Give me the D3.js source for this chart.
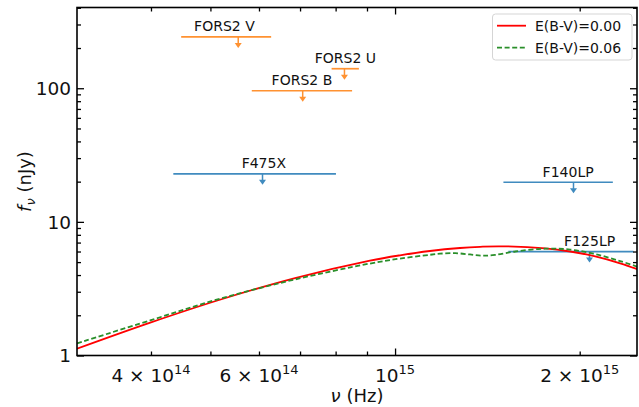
<!DOCTYPE html>
<html>
<head>
<meta charset="utf-8">
<script src="https://cdn.jsdelivr.net/npm/d3@7"></script>
<style>
body { margin: 0; background: #fff; }
text { font-family: "DejaVu Sans", sans-serif; fill: #111; }
</style>
</head>
<body>
<div id="chart"></div>
<script>
// model SED, E(B-V)=0.00
var sedFreq0 = [3.03e14, 4.0e14, 5.18e14, 6.87e14, 9.1e14, 1.019e15, 1.14e15, 1.276e15, 1.376e15, 1.484e15, 1.757e15, 1.93e15, 2.12e15, 2.328e15, 2.49e15];
var sedFlux0 = [1.124, 1.769, 2.613, 3.794, 5.126, 5.623, 6.055, 6.376, 6.508, 6.565, 6.342, 6.003, 5.518, 4.90, 4.406];
// model SED, E(B-V)=0.06
var sedFreq6 = [3.03e14, 4.0e14, 5.18e14, 6.87e14, 9.1e14, 1.019e15, 1.14e15, 1.184e15, 1.253e15, 1.325e15, 1.387e15, 1.456e15, 1.57e15, 1.757e15, 1.93e15, 2.12e15, 2.328e15, 2.49e15];
var sedFlux6 = [1.233, 1.840, 2.659, 3.711, 4.877, 5.314, 5.673, 5.780, 5.831, 5.702, 5.585, 5.662, 6.003, 6.300, 6.203, 5.741, 5.090, 4.598];

// upper limits
var bandNames = ["FORS2 V", "FORS2 U", "FORS2 B", "F475X", "F140LP", "F125LP"];
var bandFreq  = [5.55e14, 8.27e14, 7.07e14, 6.08e14, 1.954e15, 2.075e15];
var bandLo    = [4.48e14, 7.88e14, 5.84e14, 4.35e14, 1.502e15, 1.53e15];
var bandHi    = [6.28e14, 8.73e14, 8.51e14, 8.01e14, 2.265e15, 2.447e15];
var bandLimit = [242, 140, 95.8, 22.9, 19.8, 5.99];
var bandLabelFreq = [5.27e14, 8.3e14, 7.05e14, 6.11e14, 1.915e15, 2.076e15];
var bandInst  = ["FORS2", "FORS2", "FORS2", "HST", "HST", "HST"];

var xMajor = [1e15];
var xMinor = [4e14, 5e14, 6e14, 7e14, 8e14, 9e14, 2e15];
var xLabelled = [4e14, 6e14, 1e15, 2e15];
var yMajor = [1, 10, 100];
var yMinor = [2, 3, 4, 5, 6, 7, 8, 9, 20, 30, 40, 50, 60, 70, 80, 90, 200, 300, 400];

var legendNames = ["E(B-V)=0.00", "E(B-V)=0.06"];

function display() {
	var width = 639, height = 407;
	var left = 77, right = 637, top = 7.5, bottom = 355.5;

	var svg = d3.select("#chart").append("svg")
		.attr("width", width)
		.attr("height", height);

	var x = d3.scaleLog().domain([3.03e14, 2.48e15]).range([left, right]);
	var y = d3.scaleLog().domain([1, 402]).range([bottom, top]);

	var instColor = {"FORS2": "#ff7f0e", "HST": "#1f77b4"};

	svg.append("clipPath").attr("id", "clip")
		.append("rect")
		.attr("x", left).attr("y", top)
		.attr("width", right - left).attr("height", bottom - top);

	var plot = svg.append("g").attr("clip-path", "url(#clip)");

	// upper limit bars
	bandNames.forEach(function(name, i) {
		var c = instColor[bandInst[i]];
		var yy = y(bandLimit[i]);
		var xx = x(bandFreq[i]);
		var g = plot.append("g").attr("opacity", 0.85);
		g.append("line")
			.attr("x1", x(bandLo[i])).attr("x2", x(bandHi[i]))
			.attr("y1", yy).attr("y2", yy)
			.attr("stroke", c).attr("stroke-width", 1.7);
		g.append("line")
			.attr("x1", xx).attr("x2", xx)
			.attr("y1", yy).attr("y2", yy + 7)
			.attr("stroke", c).attr("stroke-width", 1.5);
		g.append("path")
			.attr("d", "M" + (xx - 3.5) + "," + (yy + 6) + "L" + (xx + 3.5) + "," + (yy + 6) + "L" + xx + "," + (yy + 11) + "Z")
			.attr("fill", c);
		svg.append("text")
			.attr("x", x(bandLabelFreq[i]))
			.attr("y", yy - 5.5)
			.attr("text-anchor", "middle")
			.style("font-size", "14px")
			.text(name);
	});

	var line = d3.line()
		.x(function(d) { return x(d[0]); })
		.y(function(d) { return y(d[1]); })
		.curve(d3.curveCatmullRom);

	plot.append("path")
		.datum(d3.zip(sedFreq0, sedFlux0))
		.attr("d", line)
		.attr("fill", "none")
		.attr("stroke", "#ff0000")
		.attr("stroke-width", 1.8);

	plot.append("path")
		.datum(d3.zip(sedFreq6, sedFlux6))
		.attr("d", line)
		.attr("fill", "none")
		.attr("stroke", "#2a8f2a")
		.attr("stroke-width", 1.8)
		.attr("stroke-dasharray", "5,2.6");

	// axes, ticks inward on all sides
	function addAxis(axisFn, scale, vals, size, tx, ty) {
		svg.append("g")
			.attr("transform", "translate(" + tx + "," + ty + ")")
			.call(axisFn(scale).tickValues(vals).tickSize(size).tickFormat(""))
			.call(function(g) {
				g.select(".domain").remove();
				g.selectAll(".tick line").attr("stroke", "#000").attr("stroke-width", 1.3);
			});
	}
	addAxis(d3.axisBottom, x, xMajor, -7, 0, bottom);
	addAxis(d3.axisBottom, x, xMinor, -4, 0, bottom);
	addAxis(d3.axisTop, x, xMajor, -7, 0, top);
	addAxis(d3.axisTop, x, xMinor, -4, 0, top);
	addAxis(d3.axisLeft, y, yMajor, -7, left, 0);
	addAxis(d3.axisLeft, y, yMinor, -4, left, 0);
	addAxis(d3.axisRight, y, yMajor, -7, right, 0);
	addAxis(d3.axisRight, y, yMinor, -4, right, 0);

	svg.append("rect")
		.attr("x", left).attr("y", top)
		.attr("width", right - left).attr("height", bottom - top)
		.attr("fill", "none")
		.attr("stroke", "#000")
		.attr("stroke-width", 1.6);

	// x tick labels (mathtext style)
	xLabelled.forEach(function(v) {
		var e = Math.floor(Math.log10(v) + 1e-9);
		var m = Math.round(v / Math.pow(10, e));
		var t = svg.append("text")
			.attr("x", x(v))
			.attr("y", 382)
			.attr("text-anchor", "middle")
			.style("font-size", "18.5px");
		t.append("tspan").text(m === 1 ? "10" : m + " \u00d7 10");
		t.append("tspan").attr("dy", -8).style("font-size", "13px").text(e);
	});

	// y tick labels
	yMajor.forEach(function(v) {
		svg.append("text")
			.attr("x", 71)
			.attr("y", y(v))
			.attr("dy", "0.36em")
			.attr("text-anchor", "end")
			.style("font-size", "18.5px")
			.text(v);
	});

	// axis labels
	var xl = svg.append("text")
		.attr("x", (left + right) / 2)
		.attr("y", 402)
		.attr("text-anchor", "middle")
		.style("font-size", "18px");
	xl.append("tspan").style("font-style", "italic").text("\u03bd");
	xl.append("tspan").text(" (Hz)");

	var yl = svg.append("text")
		.attr("transform", "translate(31," + ((top + bottom) / 2) + ") rotate(-90)")
		.attr("text-anchor", "middle")
		.style("font-size", "18px");
	yl.append("tspan").style("font-style", "italic").text("f");
	yl.append("tspan").attr("dy", 4).style("font-style", "italic").style("font-size", "13px").text("\u03bd");
	yl.append("tspan").attr("dy", -4).text(" (nJy)");

	// legend
	var lg = svg.append("g");
	lg.append("rect")
		.attr("x", 492.5).attr("y", 14)
		.attr("width", 139.5).attr("height", 46)
		.attr("rx", 3)
		.attr("fill", "#fff").attr("fill-opacity", 0.8)
		.attr("stroke", "#d5d5d5");
	legendNames.forEach(function(name, i) {
		var ly = 25.7 + i * 22;
		lg.append("line")
			.attr("x1", 497).attr("x2", 526)
			.attr("y1", ly).attr("y2", ly)
			.attr("stroke", i === 0 ? "#ff0000" : "#2a8f2a")
			.attr("stroke-width", 1.8)
			.attr("stroke-dasharray", i === 0 ? null : "5,2.6");
		lg.append("text")
			.attr("x", 535).attr("y", ly)
			.attr("dy", "0.36em")
			.style("font-size", "14px")
			.text(name);
	});
}

display();
</script>
</body>
</html>
